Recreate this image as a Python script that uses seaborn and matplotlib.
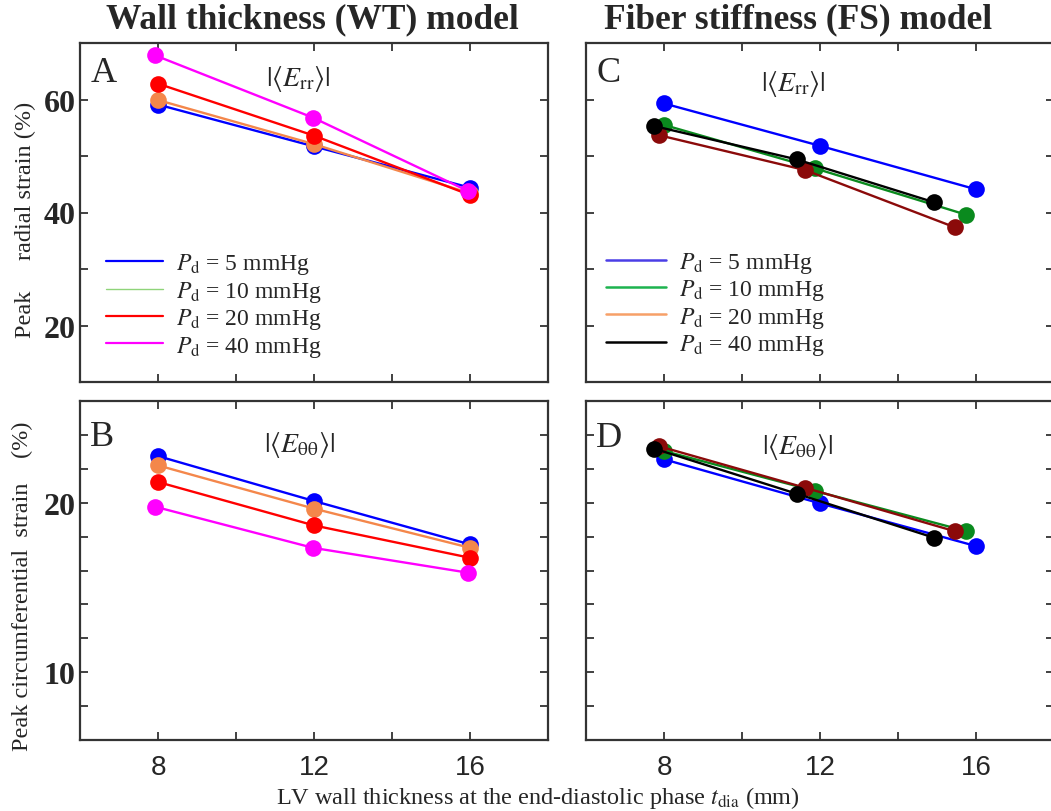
import numpy as np
import pandas as pd
import matplotlib
matplotlib.use("Agg")
import matplotlib.pyplot as plt
import seaborn as sns
from matplotlib.lines import Line2D
from matplotlib.ticker import MultipleLocator

# ---------------- data ----------------
pressures = ["5", "10", "20", "40"]
legend_labels = [r"$P_{\rm d}$ = 5 mmHg", r"$P_{\rm d}$ = 10 mmHg",
                 r"$P_{\rm d}$ = 20 mmHg", r"$P_{\rm d}$ = 40 mmHg"]

# Wall thickness (WT) model
wt_thick = [8, 12, 16]
wt_thick_40 = [7.93, 11.97, 15.95]
wt_rr_5 = [59.1, 51.7, 44.4]
wt_rr_10 = [59.9, 52.1, 43.4]
wt_rr_20 = [62.8, 53.6, 43.1]
wt_rr_40 = [67.8, 56.8, 43.8]
wt_tt_5 = [22.75, 20.1, 17.54]
wt_tt_10 = [22.2, 19.65, 17.34]
wt_tt_20 = [21.22, 18.66, 16.75]
wt_tt_40 = [19.76, 17.34, 15.87]

# Fiber stiffness (FS) model
fs_thick_5 = [8.0, 12.0, 16.0]
fs_thick_10 = [8.0, 11.88, 15.75]
fs_thick_20 = [7.86, 11.62, 15.45]
fs_thick_40 = [7.75, 11.4, 14.93]
fs_rr_5 = [59.3, 51.8, 44.1]
fs_rr_10 = [55.5, 47.8, 39.6]
fs_rr_20 = [53.7, 47.5, 37.4]
fs_rr_40 = [55.3, 49.4, 41.8]
fs_tt_5 = [22.56, 19.96, 17.44]
fs_tt_10 = [23.05, 20.69, 18.32]
fs_tt_20 = [23.34, 20.88, 18.32]
fs_tt_40 = [23.19, 20.53, 17.93]

wt_colors = ["#0000ff", "#f4874b", "#ff0000", "#ff00ff"]
wt_legend_colors = ["#0000ff", "#8fd47a", "#ff0000", "#ff00ff"]
fs_colors = ["#0000ff", "#0a8a1e", "#8b0a0a", "#000000"]
fs_legend_colors = ["#4b3ee6", "#1db34f", "#f7a068", "#000000"]


def frame(xs, ys):
    rows = []
    for p, x, y in zip(pressures, xs, ys):
        for xi, yi in zip(x, y):
            rows.append({"t": xi, "v": yi, "P": p})
    return pd.DataFrame(rows)


df_A = frame([wt_thick, wt_thick, wt_thick, wt_thick_40], [wt_rr_5, wt_rr_10, wt_rr_20, wt_rr_40])
df_B = frame([wt_thick, wt_thick, wt_thick, wt_thick_40], [wt_tt_5, wt_tt_10, wt_tt_20, wt_tt_40])
fs_x = [fs_thick_5, fs_thick_10, fs_thick_20, fs_thick_40]
df_C = frame(fs_x, [fs_rr_5, fs_rr_10, fs_rr_20, fs_rr_40])
df_D = frame(fs_x, [fs_tt_5, fs_tt_10, fs_tt_20, fs_tt_40])

# ---------------- style ----------------
sns.set_theme(style="ticks")
plt.rcParams["font.family"] = ["Liberation Serif", "DejaVu Serif"]
plt.rcParams["mathtext.fontset"] = "stix"

W, H = 1051, 812
fig = plt.figure(figsize=(W / 100, H / 100), dpi=100)


def px_axes(left, top, right, bottom):
    return fig.add_axes([left / W, 1 - bottom / H, (right - left) / W, (bottom - top) / H])


axA = px_axes(80, 44, 548, 383)
axC = px_axes(586, 44, 1054, 383)
axB = px_axes(80, 402, 548, 741)
axD = px_axes(586, 402, 1054, 741)

spine_col = "#333333"
for ax, df, cols in [(axA, df_A, wt_colors), (axB, df_B, wt_colors),
                     (axC, df_C, fs_colors), (axD, df_D, fs_colors)]:
    sns.lineplot(data=df, x="t", y="v", hue="P", hue_order=pressures,
                 palette=cols, marker="o", markersize=12, markeredgewidth=0,
                 linewidth=1.7, sort=False, estimator=None, legend=False, ax=ax)
    ax.set_xlim(6, 18)
    ax.xaxis.set_major_locator(MultipleLocator(4))
    ax.xaxis.set_minor_locator(MultipleLocator(2))
    ax.tick_params(which="both", direction="in", top=True, right=True,
                   length=6, width=1.3, color=spine_col)
    for s in ax.spines.values():
        s.set_linewidth(1.6)
        s.set_color(spine_col)
    ax.set_xlabel("")
    ax.set_ylabel("")

for ax in (axA, axC):
    ax.set_ylim(10, 70)
    ax.yaxis.set_major_locator(MultipleLocator(20))
    ax.yaxis.set_minor_locator(MultipleLocator(10))
    ax.set_xticklabels([])
for ax in (axB, axD):
    ax.set_ylim(6, 26)
    ax.yaxis.set_major_locator(MultipleLocator(10))
    ax.yaxis.set_minor_locator(MultipleLocator(2))
for ax in (axC, axD):
    ax.set_yticklabels([])

for ax in (axA, axB):
    ax.tick_params(axis="y", pad=3)
    for lab in ax.get_yticklabels():
        lab.set_fontfamily("Liberation Serif")
        lab.set_fontweight("bold")
        lab.set_fontsize(23)
for ax in (axB, axD):
    ax.tick_params(axis="x", pad=10)
    for lab in ax.get_xticklabels():
        lab.set_fontfamily("Liberation Sans")
        lab.set_fontsize(20)

# panel letters and component labels
for ax, letter, ypos in [(axA, "A", 0.962), (axC, "C", 0.962), (axB, "B", 0.945), (axD, "D", 0.94)]:
    ax.text(0.022, ypos, letter, transform=ax.transAxes, ha="left", va="top", fontsize=26)

axA.text(0.466, 0.897, r"$|\langle E_{\mathrm{rr}}\rangle|$", transform=axA.transAxes,
         ha="center", va="center", fontsize=20)
axC.text(0.443, 0.882, r"$|\langle E_{\mathrm{rr}}\rangle|$", transform=axC.transAxes,
         ha="center", va="center", fontsize=20)
axB.text(0.47, 0.873, r"$|\langle E_{\mathrm{\theta\theta}}\rangle|$", transform=axB.transAxes,
         ha="center", va="center", fontsize=20)
axD.text(0.451, 0.867, r"$|\langle E_{\mathrm{\theta\theta}}\rangle|$", transform=axD.transAxes,
         ha="center", va="center", fontsize=20)

# legends (colours as drawn in the original legend)
def add_legend(ax, colors, widths, anchor, hl):
    handles = [Line2D([0], [0], color=c, lw=w) for c, w in zip(colors, widths)]
    ax.legend(handles, legend_labels, loc="upper left", bbox_to_anchor=anchor,
              frameon=False, fontsize=17, handlelength=hl, handletextpad=0.55,
              labelspacing=0.1, borderaxespad=0, borderpad=0)

add_legend(axA, wt_legend_colors, [1.6, 1.0, 1.6, 1.6], (0.056, 0.385), 2.4)
add_legend(axC, fs_legend_colors, [1.8, 1.8, 1.8, 1.8], (0.043, 0.39), 2.55)

# titles and axis labels
fig.text(312 / W, 1 - 20 / H, "Wall thickness (WT) model", ha="center", va="center",
         fontsize=25.5, fontweight="bold")
fig.text(798 / W, 1 - 20 / H, "Fiber stiffness (FS) model", ha="center", va="center",
         fontsize=25.5, fontweight="bold")
fig.text(25 / W, 1 - 220 / H, "Peak     radial strain (%)", rotation=90,
         ha="center", va="center", fontsize=17.5)
fig.text(22 / W, 1 - 586 / H, "Peak circumferential  strain    (%)", rotation=90,
         ha="center", va="center", fontsize=17.5)
fig.text(538 / W, 1 - 798 / H, r"LV wall thickness at the end-diastolic phase $t_{\rm dia}$ (mm)",
         ha="center", va="center", fontsize=17.5)

fig.savefig("out.png", dpi=100)
